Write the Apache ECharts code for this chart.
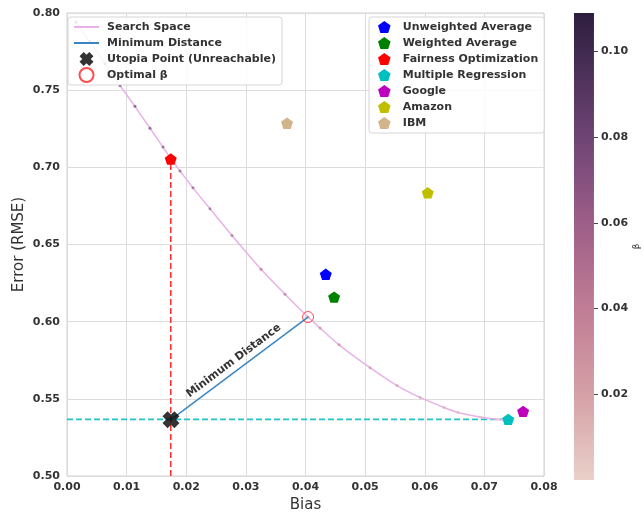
<!DOCTYPE html>
<html>
<head>
<meta charset="utf-8">
<script src="https://cdn.jsdelivr.net/npm/echarts@6/dist/echarts.min.js"></script>
<style>html,body{margin:0;padding:0;background:#fff}#c{width:642px;height:518px}</style>
</head>
<body>
<div id="c"></div>
<script>
// ---- data ----
const searchBias  = [0.00151,0.00386,0.00637,0.00889,0.01140,0.01392,0.01610,0.01744,0.01895,0.02113,0.02398,0.02767,0.03254,0.03656,0.04042,0.04243,0.04562,0.05082,0.05535,0.05920,0.06323,0.06558,0.06927,0.07212,0.07396];
const searchError = [0.7942,0.7813,0.7672,0.7530,0.7395,0.7253,0.7131,0.7054,0.6977,0.6867,0.6732,0.6558,0.6339,0.6178,0.6030,0.5959,0.5850,0.5702,0.5586,0.5509,0.5444,0.5412,0.5383,0.5367,0.5361];
const searchBeta  = [0.108,0.104,0.099,0.094,0.089,0.084,0.080,0.077,0.074,0.070,0.065,0.059,0.052,0.046,0.041,0.038,0.034,0.028,0.023,0.019,0.015,0.012,0.008,0.004,0.001];
const utopiaPoint  = [0.01744, 0.5365];
const optimalPoint = [0.04042, 0.6030];
const methodNames  = ['Unweighted Average','Weighted Average','Fairness Optimization','Multiple Regression','Google','Amazon','IBM'];
const methodBias   = [0.0434, 0.0448, 0.0174, 0.0740, 0.0765, 0.0605, 0.0369];
const methodError  = [0.6307, 0.6159, 0.7054, 0.5367, 0.5419, 0.6835, 0.7286];
const methodColors = ['#0000ff','#008000','#ff0000','#00bfbf','#bf00bf','#bfbf00','#d2b48c'];
const xTicks = [0, 0.08, 0.01];
const yTicks = [0.50, 0.80, 0.05];
const betaMax = 0.109;
const betaColors = ['#ead0c9','#d5a0a6','#c07d95','#9d5e88','#6e4475','#2d1e3e'];

const PENTAGON = 'path://M50,0 L97.6,34.5 L79.4,90.5 L20.6,90.5 L2.4,34.5 Z';
const XMARK = 'path://M3,0 L5,2 L7,0 L10,3 L8,5 L10,7 L7,10 L5,8 L3,10 L0,7 L2,5 L0,3 Z';
const FONT = 'DejaVu Sans';
const txt = {fontFamily: FONT, fontSize: 11, fontWeight: 'bold', color: '#333'};
const hideSym = {opacity: 0, color: 'rgba(0,0,0,0)', borderColor: 'rgba(0,0,0,0)'};

const chart = echarts.init(document.getElementById('c'), null, {renderer: 'canvas'});

const methodSeries = methodNames.map((n, i) => ({
  name: n, type: 'scatter', symbol: PENTAGON, symbolSize: 12, symbolKeepAspect: true,
  itemStyle: {color: methodColors[i], opacity: 1}, z: 6,
  data: [[methodBias[i], methodError[i]]]
}));

const option = {
  animation: false,
  backgroundColor: '#fff',
  grid: [
    {left: 67, right: 98, top: 13, bottom: 39, show: true, borderColor: '#d0d0d0', borderWidth: 1},
    {left: 574, width: 24, top: 13, bottom: 38}
  ],
  xAxis: [
    {type: 'value', gridIndex: 0, min: xTicks[0], max: xTicks[1], interval: xTicks[2],
     name: 'Bias', nameLocation: 'middle', nameGap: 22, nameMoveOverlap: false,
     nameTextStyle: {fontFamily: FONT, fontSize: 15, color: '#333'},
     axisLine: {show: false}, axisTick: {show: false},
     axisLabel: Object.assign({margin: 6, formatter: v => v.toFixed(2)}, txt),
     splitLine: {lineStyle: {color: '#dcdcdc', width: 1}}},
    {type: 'category', gridIndex: 1, data: ['beta'], show: false}
  ],
  yAxis: [
    {type: 'value', gridIndex: 0, min: yTicks[0], max: yTicks[1], interval: yTicks[2],
     name: 'Error (RMSE)', nameLocation: 'middle', nameGap: 40, nameMoveOverlap: false,
     nameTextStyle: {fontFamily: FONT, fontSize: 15, color: '#333'},
     axisLine: {show: false}, axisTick: {show: false},
     axisLabel: Object.assign({margin: 7, formatter: v => v.toFixed(2)}, txt),
     splitLine: {lineStyle: {color: '#dcdcdc', width: 1}}},
    {type: 'value', gridIndex: 1, position: 'right', min: 0, max: betaMax, interval: 0.02,
     name: 'β', nameLocation: 'middle', nameGap: 36, nameRotate: 90,
     nameTextStyle: {fontFamily: FONT, fontSize: 9, color: '#333'},
     axisLine: {show: false}, splitLine: {show: false},
     axisTick: {show: true, length: 4, lineStyle: {color: '#444'}},
     axisLabel: Object.assign({margin: 7, showMinLabel: false, showMaxLabel: false,
       formatter: v => (v > 0 && v < 0.105) ? v.toFixed(2) : ''}, txt)}
  ],
  visualMap: {
    show: false, type: 'continuous', seriesIndex: 1, dimension: 2,
    min: 0, max: betaMax, inRange: {color: betaColors}
  },
  legend: [
    {left: 68, top: 17, orient: 'vertical', padding: [2, 6, 2, 5], itemWidth: 25, itemHeight: 14, itemGap: 0,
     backgroundColor: 'rgba(255,255,255,0.85)', borderColor: '#d6d6d6', borderWidth: 1, borderRadius: 3,
     textStyle: Object.assign({padding: [0, 0, 0, 3], lineHeight: 16}, txt),
     data: [{name: 'Search Space', itemStyle: hideSym},
            {name: 'Minimum Distance', itemStyle: hideSym},
            'Utopia Point (Unreachable)', 'Optimal β']},
    {left: 369, top: 17, orient: 'vertical', padding: [4, 6, 4, 9], itemWidth: 25, itemHeight: 12, itemGap: 4,
     backgroundColor: 'rgba(255,255,255,0.85)', borderColor: '#d6d6d6', borderWidth: 1, borderRadius: 3,
     textStyle: Object.assign({padding: [0, 0, 0, 1]}, txt),
     data: methodNames}
  ],
  series: [
    {name: 'Search Space', type: 'line', symbol: 'none', smooth: 0.2, z: 2,
     lineStyle: {color: '#e8b2e8', width: 1.5}, itemStyle: {color: '#e8b2e8'},
     data: searchBias.map((b, i) => [b, searchError[i]])},
    {name: 'Search Space β', type: 'scatter', symbol: 'circle', symbolSize: 3, z: 3,
     itemStyle: {opacity: 0.7},
     data: searchBias.map((b, i) => [b, searchError[i], searchBeta[i]])},
    {name: 'Fairness line', type: 'line', symbol: 'none', z: 1,
     lineStyle: {color: '#ff3030', width: 1.6, type: [6, 3]},
     data: [[methodBias[2], yTicks[0]], [methodBias[2], methodError[2]]]},
    {name: 'Regression line', type: 'line', symbol: 'none', z: 1,
     lineStyle: {color: '#22c4cc', width: 1.6, type: [6, 3]},
     data: [[xTicks[0], methodError[3]], [methodBias[3], methodError[3]]]},
    {name: 'Minimum Distance', type: 'line', symbol: 'none', z: 4,
     lineStyle: {color: '#3a86c2', width: 1.5}, itemStyle: {color: '#3a86c2'},
     data: [utopiaPoint, optimalPoint],
     markLine: {silent: true, symbol: 'none', lineStyle: {color: 'rgba(0,0,0,0)', width: 1},
       label: Object.assign({show: true, position: 'middle', distance: 4, formatter: 'Minimum Distance'}, txt),
       data: [[{coord: utopiaPoint}, {coord: optimalPoint}]]}},
    {name: 'Utopia Point (Unreachable)', type: 'scatter', symbol: XMARK, symbolSize: 17, symbolKeepAspect: true, z: 7,
     itemStyle: {color: '#000'}, data: [utopiaPoint]},
    {name: 'Optimal β', type: 'scatter', symbol: 'circle', symbolSize: 11, z: 7,
     itemStyle: {color: 'rgba(255,255,255,0)', borderColor: '#ff2020', borderWidth: 1},
     data: [optimalPoint]},
    ...methodSeries,
    {name: 'colorbar', type: 'bar', xAxisIndex: 1, yAxisIndex: 1, barWidth: '100%', silent: true,
     itemStyle: {color: new echarts.graphic.LinearGradient(0, 0, 0, 1, [
       {offset: 0, color: betaColors[5]}, {offset: 0.266, color: betaColors[4]},
       {offset: 0.45, color: betaColors[3]}, {offset: 0.633, color: betaColors[2]},
       {offset: 0.817, color: betaColors[1]}, {offset: 1, color: betaColors[0]}])},
     data: [betaMax]}
  ]
};
chart.setOption(option);
</script>
</body>
</html>
